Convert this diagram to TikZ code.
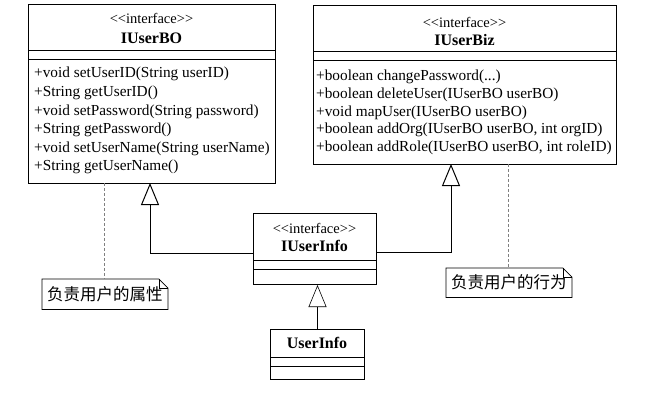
\documentclass[tikz,border=0pt]{standalone}
\usepackage{fontspec}
\setmainfont{Liberation Serif}
\newfontfamily\cjk{Noto Sans CJK SC}
\usetikzlibrary{arrows.meta,positioning}
\newcommand\notepath[1]{%
  \draw[line width=0.8pt] (#1.north west) -- ([xshift=-9pt]#1.north east)
    -- ([yshift=-9pt]#1.north east) -- (#1.south east) -- (#1.south west) -- cycle;
  \draw[line width=0.6pt] ([xshift=-9pt]#1.north east) |- ([yshift=-9pt]#1.north east);}
\newcommand\stereotext{<{}<interface>{}>}
\begin{document}
\begin{tikzpicture}[x=1pt,y=-1pt,
    box/.style={draw,line width=1pt,anchor=north west,inner sep=0pt},
    stereo/.style={inner sep=0pt,font=\fontsize{14.5}{14.5}\selectfont},
    cname/.style={inner sep=0pt,font=\fontsize{16}{16}\selectfont\bfseries},
    ops/.style={anchor=north west,align=left,inner sep=0pt},
    realize/.style={-{Triangle[open,length=22pt,width=18pt]},line width=1pt},
    anchorline/.style={gray,line width=0.5pt,densely dashed},
    notebox/.style={anchor=north west,inner xsep=5pt,inner ysep=0pt,minimum height=30pt,
      font=\cjk\fontsize{16.5}{16.5}\selectfont}]
  \useasboundingbox (0,0) rectangle (650,407);
  % IUserBO
  \node[box,minimum width=247pt,minimum height=179pt] (bo) at (28,4) {};
  \node[stereo] (bostereo) at (151.5,18) {\stereotext};
  \node[cname] (boname) at (151.5,38) {IUserBO};
  \draw[line width=1pt] ([yshift=-46pt]bo.north west) -- ([yshift=-46pt]bo.north east);
  \draw[line width=1pt] ([yshift=-55pt]bo.north west) -- ([yshift=-55pt]bo.north east);
  \node[ops,font=\fontsize{15.3}{18.6}\selectfont] (boops) at (34,67)
    {+void setUserID(String userID)\\+String getUserID()\\+void setPassword(String password)\\
     +String getPassword()\\+void setUserName(String userName)\\+String getUserName()};
  % IUserBiz
  \node[box,minimum width=303pt,minimum height=159pt] (biz) at (313,5) {};
  \node[stereo] (bizstereo) at (464.5,22) {\stereotext};
  \node[cname] (bizname) at (464.5,40) {IUserBiz};
  \draw[line width=1pt] ([yshift=-46pt]biz.north west) -- ([yshift=-46pt]biz.north east);
  \draw[line width=1pt] ([yshift=-55pt]biz.north west) -- ([yshift=-55pt]biz.north east);
  \node[ops,font=\fontsize{15.3}{17.6}\selectfont] (bizops) at (316,70)
    {+boolean changePassword(...)\\+boolean deleteUser(IUserBO userBO)\\+void mapUser(IUserBO userBO)\\
     +boolean addOrg(IUserBO userBO, int orgID)\\+boolean addRole(IUserBO userBO, int roleID)};
  % IUserInfo
  \node[box,minimum width=123pt,minimum height=71pt] (info) at (253,213) {};
  \node[stereo] (infostereo) at (314.5,228) {\stereotext};
  \node[cname] (infoname) at (314.5,246) {IUserInfo};
  \draw[line width=1pt] ([yshift=-47pt]info.north west) -- ([yshift=-47pt]info.north east);
  \draw[line width=1pt] ([yshift=-56pt]info.north west) -- ([yshift=-56pt]info.north east);
  % UserInfo
  \node[box,minimum width=94pt,minimum height=50pt] (user) at (270,329) {};
  \node[cname] (username) at (317,343) {UserInfo};
  \draw[line width=1pt] ([yshift=-28pt]user.north west) -- ([yshift=-28pt]user.north east);
  \draw[line width=1pt] ([yshift=-37pt]user.north west) -- ([yshift=-37pt]user.north east);
  % notes
  \node[notebox] (propnote) at (42,279) {负责用户的属性\hspace{9pt}};
  \notepath{propnote}
  \node[notebox,minimum height=29pt] (actnote) at (446,268) {负责用户的行为\hspace{9pt}};
  \notepath{actnote}
  % connectors
  \coordinate (botip) at (150,183);
  \coordinate (biztip) at (451,164);
  \coordinate (bonote) at (104,183);
  \coordinate (biznote) at (508,164);
  \draw[realize] ([yshift=-4.5pt]info.west) -| (botip);
  \draw[realize] ([yshift=-3.5pt]info.east) -| (biztip);
  \draw[realize,line width=0.6pt] (user.north) -- (user.north |- info.south);
  \draw[anchorline] (bonote) -- (bonote |- propnote.north);
  \draw[anchorline] (biznote) -- (biznote |- actnote.north);
\end{tikzpicture}
\end{document}
